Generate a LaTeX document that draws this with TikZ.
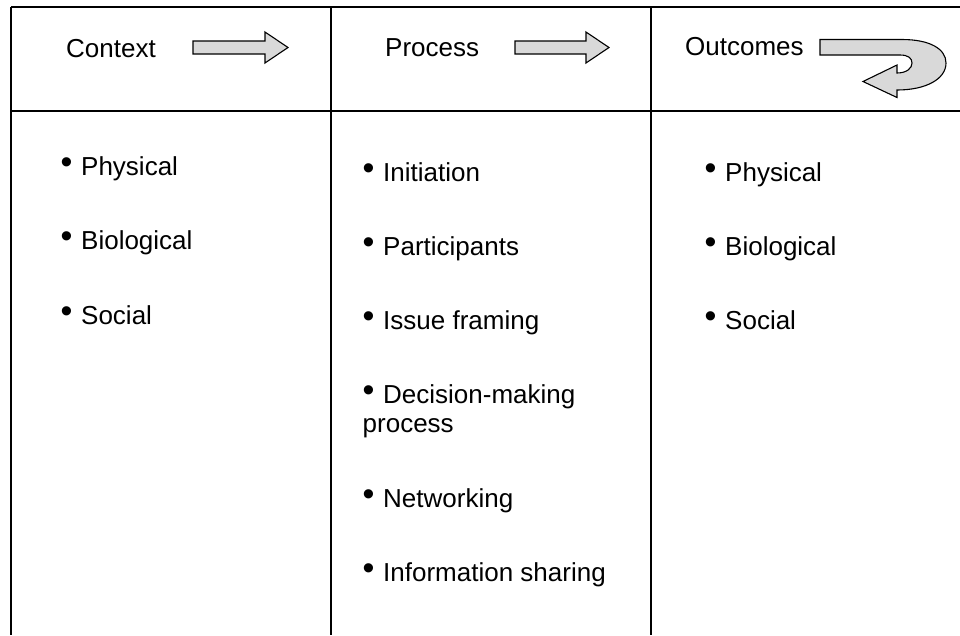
\documentclass[tikz,border=0pt]{standalone}
\usepackage{fontspec}
\setmainfont{Liberation Sans}
\usepackage{tikz}

\newcommand{\itemdot}{\makebox[20.5pt][l]{\raisebox{1.5pt}{\scalebox{1.3}{•}}}}

\begin{document}
\begin{tikzpicture}[x=1pt, y=1pt, yscale=-1,
  head/.style={font=\fontsize{26}{29}\selectfont, anchor=base west, inner sep=0pt},
  item/.style={font=\fontsize{26}{29}\selectfont, anchor=base west, inner sep=0pt},
  rule/.style={line width=1.8pt},
  blockarrow/.style={draw, fill=black!15, line width=1.1pt, line join=miter}]

\useasboundingbox (0,0) rectangle (960,635);

% table lines
\draw [rule]  (11,7) -- (960,7);
\draw [rule]  (11,111) -- (960,111);
\draw [rule]  (11,7) -- (11,635);
\draw [rule]  (331,7) -- (331,635);
\draw [rule]  (651,7) -- (651,635);

% -------- headings -----------
\node (ctx)  [head]  at  (66, 57) {Context};
\node (proc) [head]  at  (385, 56) {Process};
\node (outc) [head]  at  (685, 55) {Outcomes};

\draw [blockarrow]  (193,41) -- (265,41) -- (265,32) -- (288,47.5) -- (265,63) -- (265,54) -- (193,54) -- cycle;
\draw [blockarrow]  (515,41) -- (586,41) -- (586,32) -- (609,47.5) -- (586,63) -- (586,54) -- (515,54) -- cycle;
\draw [blockarrow]  (820,39.5) -- (902,39.5) .. controls (930,39.5) and (946,49) .. (946,63)
      .. controls (946,79) and (926,90) .. (897,90) -- (897,97.5) -- (863,81.5) -- (897,65) -- (897,73)
      .. controls (907,73) and (912,68) .. (912,63) .. controls (912,58) and (908,55) .. (900,55)
      -- (820,55) -- cycle;

% -------- Context items -----------
\node (c1) [item]  at  (60.5, 175) {\itemdot Physical};
\node (c2) [item]  at  (60.5, 249) {\itemdot Biological};
\node (c3) [item]  at  (60.5, 324) {\itemdot Social};

% -------- Process items -----------
\node (p1) [item]  at  (362.5, 181) {\itemdot Initiation};
\node (p2) [item]  at  (362.5, 255) {\itemdot Participants};
\node (p3) [item]  at  (362.5, 329) {\itemdot Issue framing};
\node (p4) [item]  at  (362.5, 403) {\itemdot Decision-making};
\node (p4b) [item] at  (362.5, 432) {process};
\node (p5) [item]  at  (362.5, 507) {\itemdot Networking};
\node (p6) [item]  at  (362.5, 581) {\itemdot Information sharing};

% -------- Outcomes items -----------
\node (o1) [item]  at  (704.5, 181) {\itemdot Physical};
\node (o2) [item]  at  (704.5, 255) {\itemdot Biological};
\node (o3) [item]  at  (704.5, 329) {\itemdot Social};

\end{tikzpicture}
\end{document}
